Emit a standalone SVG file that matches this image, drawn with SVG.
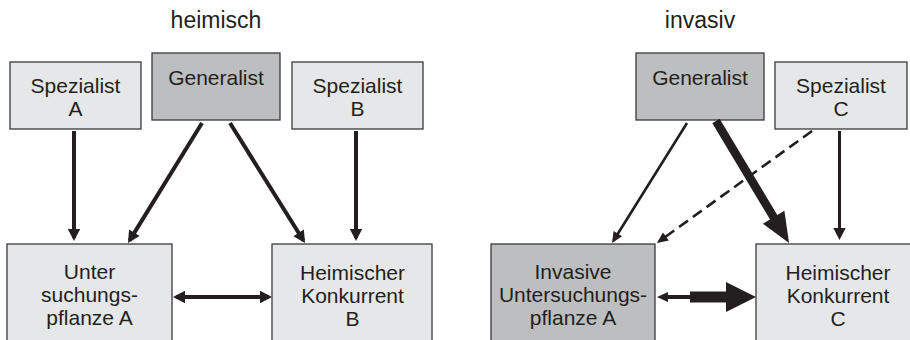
<svg xmlns="http://www.w3.org/2000/svg" width="910" height="340" viewBox="0 0 910 340">
<style>
  .lt { fill: #e6e7e8; stroke: #3a3a3c; stroke-width: 1.3; }
  .dk { fill: #bcbec0; stroke: #3a3a3c; stroke-width: 1.3; }
  text { font-family: "Liberation Sans", Arial, sans-serif; fill: #231f20; text-anchor: middle; }
  .t { font-size: 21px; }
  .h { font-size: 23px; }
  .ln { stroke: #231f20; fill: none; }
</style>
<defs>
  <marker id="ah" markerUnits="userSpaceOnUse" orient="auto-start-reverse" overflow="visible" markerWidth="1" markerHeight="1" refX="0" refY="0">
    <path d="M-9,-6.2 L3,0 L-9,6.2 z" fill="#231f20"/>
  </marker>
  <marker id="ahs" markerUnits="userSpaceOnUse" orient="auto" overflow="visible" markerWidth="1" markerHeight="1" refX="0" refY="0">
    <path d="M-8,-5 L3,0 L-8,5 z" fill="#231f20"/>
  </marker>
  <marker id="ahb" markerUnits="userSpaceOnUse" orient="auto" overflow="visible" markerWidth="1" markerHeight="1" refX="0" refY="0">
    <path d="M-18,-12.5 L12,0 L-18,12.5 z" fill="#231f20"/>
  </marker>
</defs>

<text class="h" x="216" y="28">heimisch</text>
<text class="h" x="700" y="28">invasiv</text>

<g id="spezialist-a">
  <rect class="lt" x="10" y="62" width="131" height="67"/>
  <text class="t" x="75.5" y="93">Spezialist</text>
  <text class="t" x="75.5" y="116">A</text>
</g>
<g id="generalist-heimisch">
  <rect class="dk" x="152" y="53" width="128" height="67"/>
  <text class="t" x="216" y="85">Generalist</text>
</g>
<g id="spezialist-b">
  <rect class="lt" x="292" y="62" width="131" height="67"/>
  <text class="t" x="357.5" y="93">Spezialist</text>
  <text class="t" x="357.5" y="116">B</text>
</g>
<g id="untersuchungspflanze-a">
  <rect class="lt" x="7" y="244" width="165" height="110"/>
  <text class="t" x="89.5" y="279">Unter</text>
  <text class="t" x="89.5" y="302">suchungs-</text>
  <text class="t" x="89.5" y="325">pflanze A</text>
</g>
<g id="konkurrent-b">
  <rect class="lt" x="272" y="244" width="160" height="110"/>
  <text class="t" x="352.5" y="280">Heimischer</text>
  <text class="t" x="352.5" y="303">Konkurrent</text>
  <text class="t" x="352.5" y="326">B</text>
</g>

<g id="generalist-invasiv">
  <rect class="dk" x="636" y="53" width="128" height="67"/>
  <text class="t" x="700" y="85">Generalist</text>
</g>
<g id="spezialist-c">
  <rect class="lt" x="775" y="62" width="132" height="67"/>
  <text class="t" x="841" y="93">Spezialist</text>
  <text class="t" x="841" y="116">C</text>
</g>
<g id="invasive-pflanze-a">
  <rect class="dk" x="491" y="244" width="164" height="110"/>
  <text class="t" x="573" y="279">Invasive</text>
  <text class="t" x="573" y="302">Untersuchungs-</text>
  <text class="t" x="573" y="325">pflanze A</text>
</g>
<g id="konkurrent-c">
  <rect class="lt" x="756" y="244" width="164" height="110"/>
  <text class="t" x="838" y="280">Heimischer</text>
  <text class="t" x="838" y="303">Konkurrent</text>
  <text class="t" x="838" y="326">C</text>
</g>

<g id="connectors">
  <line class="ln" stroke-width="4" x1="74" y1="131" x2="74" y2="238" marker-end="url(#ah)"/>
  <line class="ln" stroke-width="4" x1="202" y1="123" x2="129.6" y2="240.4" marker-end="url(#ah)"/>
  <line class="ln" stroke-width="4" x1="230" y1="123" x2="303.4" y2="240.5" marker-end="url(#ah)"/>
  <line class="ln" stroke-width="4" x1="356" y1="131" x2="356" y2="238" marker-end="url(#ah)"/>
  <line class="ln" stroke-width="4" x1="176" y1="297" x2="269" y2="297" marker-start="url(#ah)" marker-end="url(#ah)"/>

  <line class="ln" stroke-width="2.6" x1="687" y1="123" x2="613.6" y2="240.5" marker-end="url(#ahs)"/>
  <line class="ln" stroke-width="2.6" stroke-dasharray="11,6" x1="812" y1="131" x2="659.4" y2="241.2" marker-end="url(#ahs)"/>
  <line class="ln" stroke-width="3" x1="839.5" y1="131" x2="839.5" y2="237" marker-end="url(#ah)"/>
  <line class="ln" stroke-width="8.5" x1="716" y1="121" x2="782.9" y2="232.7" marker-end="url(#ahb)"/>
  <polygon fill="#231f20" points="657,297 668,292 668,295 690,295 690,291.5 726,291.5 726,282 756,297 726,312 726,302.5 690,302.5 690,299 668,299 668,302"/>
</g>
</svg>
